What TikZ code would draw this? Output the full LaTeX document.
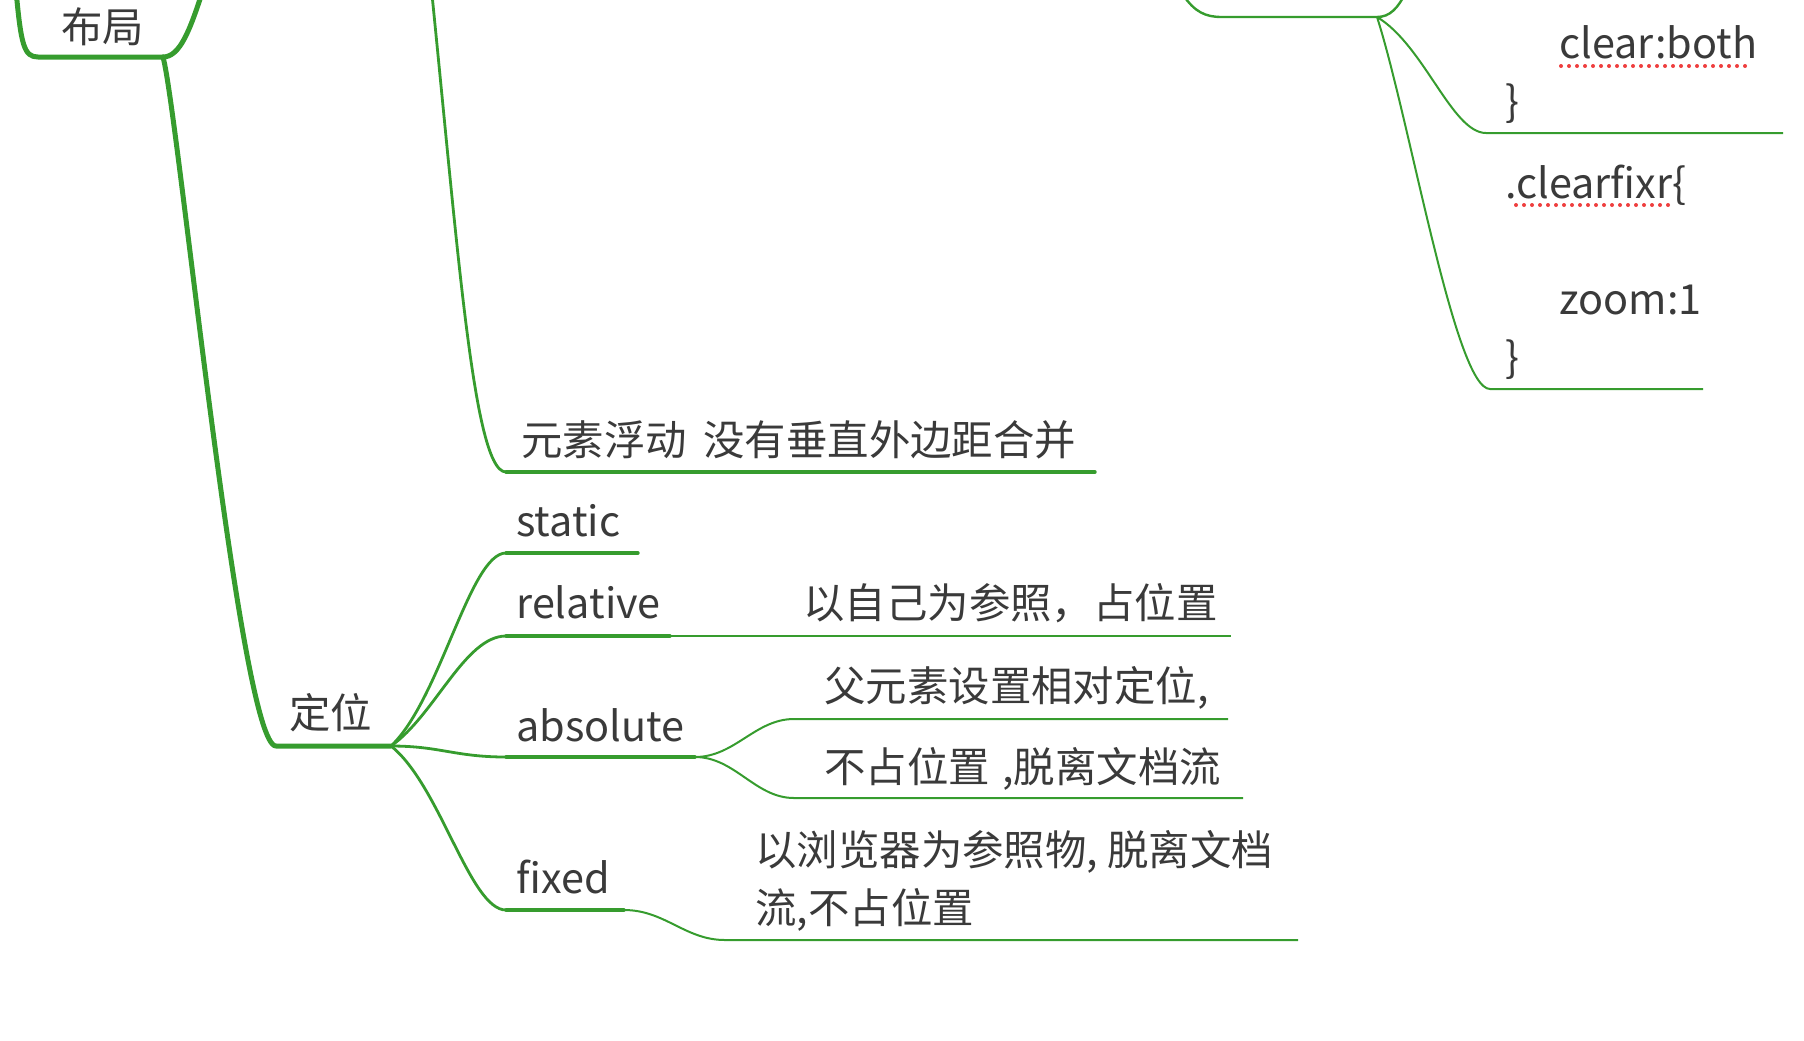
\documentclass[tikz,border=0pt]{standalone}
\usepackage{fontspec}
\setmainfont{Noto Sans CJK SC}
\definecolor{mapgreen}{RGB}{54,156,46}
\definecolor{maptext}{RGB}{58,58,58}
\definecolor{spellred}{RGB}{238,62,62}
\newcommand{\topicfont}{\fontsize{20.7}{29}\selectfont}
\newcommand{\spellcheck}[2]{\draw[spelldots] (#1) -- (#2);}
\tikzset{
  topic/.style={anchor=base west, inner sep=0pt, text=maptext, font=\topicfont, align=left},
  trunkline/.style={draw=mapgreen, line width=2.5pt, line cap=round, line join=round},
  branchline/.style={draw=mapgreen, line width=1.7pt, line cap=round},
  linkline/.style={draw=mapgreen, line width=1.4pt},
  leafline/.style={draw=mapgreen, line width=1pt},
  spelldots/.style={draw=spellred, line width=2pt, line cap=round, dash pattern=on 0pt off 4pt}
}

\begin{document}
\begin{tikzpicture}[x=0.5pt,y=-0.5pt]
 \useasboundingbox (0,0) rectangle (1804,1040);
 \clip (0,0) rectangle (1804,1040);

 % topics (multi-line ones sit on their last baseline)
 \node[topic] (buju) at (61,42) {布局};
 \node[topic] (dingwei) at (289,728) {定位};
 \node[topic] (float) at (521,455) {元素浮动\hspace{0.4em}没有垂直外边距合并};
 \node[topic] (static) at (516,536) {static};
 \node[topic] (relative) at (516,618) {relative};
 \node[topic] (absolute) at (516,741) {absolute};
 \node[topic] (fixed) at (516,893) {fixed};
 \node[topic] (relnote) at (803,618) {以自己为参照，占位置};
 \node[topic] (absnoteA) at (824,701) {父元素设置相对定位,};
 \node[topic] (absnoteB) at (824,782) {不占位置\hspace{0.3em},脱离文档流};
 \node[topic] (fixnote) at (755,923) {以浏览器为参照物, 脱离文档\\流,不占位置};
 \node[topic] (clearboth) at (1505,116) {\hspace{27pt}clear:both\\\}};
 \node[topic] (clearfixr) at (1505,372) {.clearfixr\{\\ \\\hspace{27pt}zoom:1\\\}};

 % underline end points
 \coordinate (buju-l) at (38,57);   \coordinate (buju-r) at (163,57);
 \coordinate (dingwei-l) at (276,746); \coordinate (dingwei-r) at (391,746);
 \coordinate (float-l) at (506,472); \coordinate (float-r) at (1095,472);
 \coordinate (static-l) at (506,553); \coordinate (static-r) at (638,553);
 \coordinate (relative-l) at (506,636); \coordinate (relative-r) at (670,636);
 \coordinate (absolute-l) at (506,757); \coordinate (absolute-r) at (695,757);
 \coordinate (fixed-l) at (506,910); \coordinate (fixed-r) at (624,910);
 \coordinate (relnote-r) at (1231,636);
 \coordinate (absnoteA-l) at (794,719); \coordinate (absnoteA-r) at (1228,719);
 \coordinate (absnoteB-l) at (794,798); \coordinate (absnoteB-r) at (1243,798);
 \coordinate (fixnote-l) at (725,940); \coordinate (fixnote-r) at (1298,940);
 \coordinate (box-l) at (1222,17); \coordinate (box-r) at (1377,17);
 \coordinate (clearboth-l) at (1486,133); \coordinate (clearboth-r) at (1783,133);
 \coordinate (clearfixr-l) at (1490,389); \coordinate (clearfixr-r) at (1703,389);

 % first level
 \draw[trunkline] (16,-10) .. controls (21,45) and (24,57) .. (buju-l) -- (buju-r)
   .. controls (180,57) and (190,30) .. (203,-10);
 \draw[trunkline] (buju-r) .. controls (178,110) and (240,746) .. (dingwei-l) -- (dingwei-r);

 % second level
 \draw[linkline] (420,-120) .. controls (455,200) and (470,472) .. (float-l);
 \draw[branchline] (float-l) -- (float-r);
 \draw[linkline] (dingwei-r) .. controls (440,700) and (470,553) .. (static-l);
 \draw[linkline] (dingwei-r) .. controls (435,715) and (465,636) .. (relative-l);
 \draw[linkline] (dingwei-r) .. controls (440,746) and (455,757) .. (absolute-l);
 \draw[linkline] (dingwei-r) .. controls (440,785) and (470,910) .. (fixed-l);
 \foreach \t in {static,relative,absolute,fixed}
   \draw[branchline] (\t-l) -- (\t-r);

 % third level
 \draw[leafline] (relative-r) -- (relnote-r);
 \draw[leafline] (absolute-r) .. controls (735,757) and (755,719) .. (absnoteA-l) -- (absnoteA-r);
 \draw[leafline] (absolute-r) .. controls (735,757) and (755,798) .. (absnoteB-l) -- (absnoteB-r);
 \draw[leafline] (fixed-r) .. controls (665,910) and (685,940) .. (fixnote-l) -- (fixnote-r);

 % top right
 \draw[mapgreen, line width=1.2pt] (1183,-5) .. controls (1195,12) and (1205,17) .. (box-l) -- (box-r)
   .. controls (1390,17) and (1398,8) .. (1406,-8);
 \draw[leafline] (box-r) .. controls (1424,45) and (1452,133) .. (clearboth-l) -- (clearboth-r);
 \draw[leafline] (box-r) .. controls (1410,120) and (1455,389) .. (clearfixr-l) -- (clearfixr-r);
 \spellcheck{1561,66}{1749,66}
 \spellcheck{1516,205}{1670,205}

\end{tikzpicture}
\end{document}
